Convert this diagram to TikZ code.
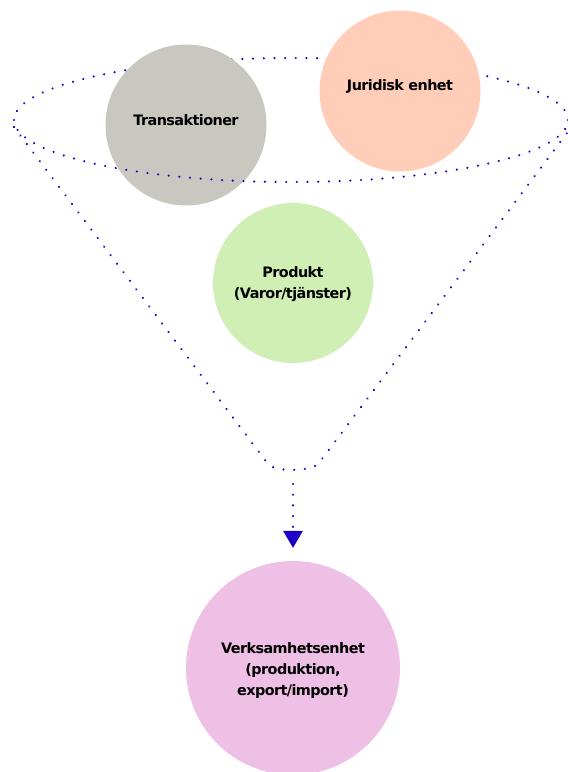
\documentclass[tikz,border=0pt]{standalone}
\usepackage{fontspec}
\newfontfamily\lblfont{DejaVu Sans}[LetterSpace=-4]
\usetikzlibrary{arrows.meta,decorations.markings}
\definecolor{dotblue}{RGB}{30,0,200}
\definecolor{cgrey}{RGB}{200,200,192}
\definecolor{cpeach}{RGB}{255,205,184}
\definecolor{cgreen}{RGB}{207,239,181}
\definecolor{cpink}{RGB}{238,192,229}
\tikzset{
  % a row of round dots, 10.7pt apart, along the path
  dotrow/.style={decoration={markings,
      mark=between positions 0 and #1 step 10.7pt with {\fill[dotblue] (0,0) circle (1.2pt);}},
    postaction={decorate}},
  dotrow/.default=1,
  bubble/.style={circle, draw=none, minimum size=#1, inner sep=0pt},
  caption/.style={align=center, inner sep=0pt,
    font=\lblfont\bfseries\fontsize{14.4}{21}\selectfont},
  tiponly/.style={draw=dotblue, line width=0.01pt,
    -{Triangle[width=20pt,length=17pt,fill=dotblue,line width=0pt]}},
}
\begin{document}
\begin{tikzpicture}[x=1pt,y=1pt]
\useasboundingbox (0,0) rectangle (568,-772);
% ring of the funnel: its two ends
\coordinate (ringW) at (14,-120);
\coordinate (ringE) at (568,-120);
% upper half of the ring lies behind the top circles
\path[dotrow] (ringE) arc[start angle=0, end angle=180, x radius=277, y radius=62];
\node[bubble=161pt, fill=cgrey] (trans) at (186,-125) {};
\node[caption] (trans-t) at ([yshift=5pt]trans.center) {Transaktioner};
\node[bubble=161pt, fill=cpeach] (jur) at (400,-91) {};
\node[caption] (jur-t) at ([yshift=5pt]jur.center) {Juridisk enhet};
% lower half of the ring in front
\path[dotrow] (ringW) arc[start angle=180, end angle=360, x radius=277, y radius=62];
% funnel sides with a rounded bottom
\coordinate (fl) at (14,-127);
\coordinate (fr) at (567,-133);
\coordinate (bl) at (268,-464);
\coordinate (br) at (319,-463);
\path[dotrow] (fl) -- (bl) .. controls (274,-472) and (312,-472) .. (br) -- (fr);
\node[bubble=160pt, fill=cgreen] (prod) at (293,-283) {};
\node[caption] (prod-t) at ([yshift=-1.5pt]prod.center) {Produkt\\(Varor/tjänster)};
\node[bubble=214pt, fill=cpink] (verk) at (293,-668) {};
\node[caption] (verk-t) at ([yshift=-3pt]verk.center) {Verksamhetsenhet\\(produktion,\\export/import)};
% outflow arrow: dotted shaft and solid head
\coordinate (fb) at (293,-484);
\path[dotrow=0.6] (fb) -- (verk.north);
\draw[tiponly, shorten >=13pt, shorten <=46pt] (fb) -- (verk.north);
\end{tikzpicture}
\end{document}
